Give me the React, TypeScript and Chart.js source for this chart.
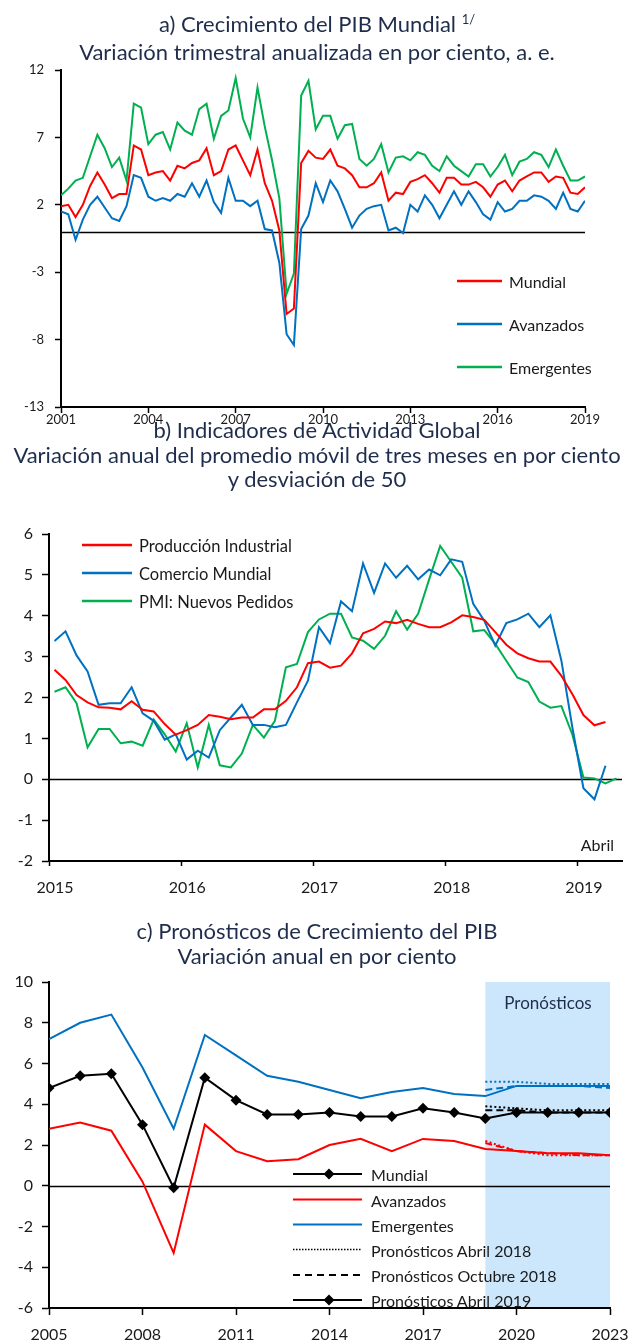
import React, { useEffect, useRef } from "react";
import { Chart, registerables } from "chart.js";

Chart.register(...registerables);

const FONT = "Lato, 'Noto Sans', sans-serif";
const NAVY = "#1f2d4d";
const INK = "#1a1a1a";
const RED = "#ff0000";
const BLUE = "#0070c0";
const GREEN = "#00b050";
const BAND = "#cce7fb";

// ---------- a) Crecimiento del PIB Mundial (quarterly, 2001Q1 .. 2019Q1)
const gdpStart = 2001;
const gdpMundial = [
  1.9, 2.0, 1.1, 2.0, 3.4, 4.4, 3.5, 2.5, 2.8, 2.8,
  6.4, 6.1, 4.2, 4.4, 4.5, 3.8, 4.9, 4.7, 5.1, 5.3,
  6.2, 4.2, 4.5, 6.1, 6.4, 5.3, 4.2, 6.1, 3.6, 2.3,
  0.1, -6.1, -5.7, 5.1, 6.0, 5.5, 5.4, 6.1, 4.9, 4.7,
  4.2, 3.3, 3.3, 3.6, 4.4, 2.3, 2.9, 2.8, 3.7, 3.9,
  4.2, 3.6, 2.9, 4.0, 4.0, 3.5, 3.5, 3.7, 3.3, 2.6,
  3.5, 3.8, 3.0, 3.8, 4.1, 4.4, 4.4, 3.7, 4.1, 4.0,
  2.9, 2.8, 3.3,
];
const gdpAvanzados = [
  1.5, 1.3, -0.6, 0.9, 2.0, 2.6, 1.8, 1.0, 0.8, 1.9,
  4.2, 4.0, 2.6, 2.3, 2.5, 2.3, 2.8, 2.6, 3.6, 2.6,
  3.8, 2.2, 1.4, 4.0, 2.3, 2.3, 1.9, 2.3, 0.2, 0.1,
  -2.3, -7.6, -8.4, 0.2, 1.2, 3.6, 2.2, 3.8, 3.0, 1.7,
  0.3, 1.2, 1.7, 1.9, 2.0, 0.1, 0.3, -0.1, 2.0, 1.5,
  2.7, 2.0, 1.0, 2.0, 3.0, 2.0, 3.0, 2.2, 1.3, 0.9,
  2.2, 1.5, 1.7, 2.3, 2.3, 2.7, 2.6, 2.3, 1.7, 2.9,
  1.7, 1.5, 2.3,
];
const gdpEmergentes = [
  2.7, 3.2, 3.8, 4.0, 5.6, 7.2, 6.2, 4.8, 5.5, 3.8,
  9.5, 9.2, 6.5, 7.2, 7.4, 6.1, 8.1, 7.5, 7.2, 9.1,
  9.5, 6.9, 8.6, 9.0, 11.4, 8.4, 7.0, 10.7, 7.8, 5.3,
  2.5, -4.6, -3.1, 10.1, 11.2, 7.6, 8.6, 8.6, 6.9, 7.9,
  8.0, 5.4, 4.9, 5.4, 6.5, 4.4, 5.5, 5.6, 5.3, 5.9,
  5.7, 4.9, 4.5, 5.6, 4.9, 4.5, 4.1, 5.0, 5.0, 4.1,
  4.8, 5.7, 4.2, 5.2, 5.4, 5.9, 5.7, 4.8, 6.1, 4.9,
  3.8, 3.8, 4.1,
];
const gdpLabels = ["Mundial", "Avanzados", "Emergentes"];
const gdpYTicks = [-13, -8, -3, 2, 7, 12];
const gdpXTicks = [2001, 2004, 2007, 2010, 2013, 2016, 2019];

// ---------- b) Indicadores de Actividad Global (monthly, Jan 2015 ..)
const actStart = 2015;
const actProduccion = [
  2.68, 2.43, 2.06, 1.88, 1.76, 1.75, 1.71, 1.91, 1.70, 1.66,
  1.35, 1.09, 1.20, 1.33, 1.57, 1.53, 1.47, 1.51, 1.51, 1.71,
  1.71, 1.92, 2.25, 2.84, 2.88, 2.73, 2.78, 3.08, 3.57, 3.68,
  3.86, 3.82, 3.90, 3.80, 3.72, 3.72, 3.84, 4.01, 3.97, 3.90,
  3.60, 3.29, 3.08, 2.96, 2.88, 2.88, 2.53, 2.08, 1.57, 1.32,
  1.40,
];
const actComercio = [
  3.38, 3.62, 3.03, 2.64, 1.82, 1.86, 1.86, 2.25, 1.61, 1.43,
  0.97, 1.10, 0.48, 0.70, 0.53, 1.20, 1.51, 1.82, 1.33, 1.33,
  1.27, 1.33, 1.88, 2.41, 3.72, 3.33, 4.35, 4.11, 5.28, 4.56,
  5.28, 4.93, 5.22, 4.89, 5.13, 4.99, 5.38, 5.32, 4.29, 3.88,
  3.27, 3.82, 3.91, 4.05, 3.72, 4.01, 2.90, 1.26, -0.22, -0.49,
  0.33,
];
const actPMI = [
  2.14, 2.25, 1.86, 0.78, 1.23, 1.23, 0.88, 0.92, 0.82, 1.46,
  1.10, 0.68, 1.37, 0.29, 1.33, 0.34, 0.29, 0.63, 1.33, 1.02,
  1.43, 2.74, 2.82, 3.60, 3.91, 4.05, 4.05, 3.47, 3.39, 3.19,
  3.51, 4.11, 3.66, 4.05, 4.89, 5.71, 5.32, 4.93, 3.62, 3.65,
  3.31, 2.90, 2.49, 2.38, 1.90, 1.75, 1.79, 1.09, 0.04, 0.02,
  -0.10, 0.02,
];
const actLabels = ["Producción Industrial", "Comercio Mundial", "PMI: Nuevos Pedidos"];
const actYTicks = [-2, -1, 0, 1, 2, 3, 4, 5, 6];
const actXTicks = [2015, 2016, 2017, 2018, 2019];

// ---------- c) Pronósticos de Crecimiento del PIB (annual)
const fcYears = [
  2005, 2006, 2007, 2008, 2009, 2010, 2011, 2012, 2013, 2014,
  2015, 2016, 2017, 2018, 2019, 2020, 2021, 2022, 2023,
];
const fcMundial = [4.8, 5.4, 5.5, 3.0, -0.1, 5.3, 4.2, 3.5, 3.5, 3.6, 3.4, 3.4, 3.8, 3.6, 3.3, 3.6, 3.6, 3.6, 3.6];
const fcAvanzados = [2.8, 3.1, 2.7, 0.2, -3.3, 3.0, 1.7, 1.2, 1.3, 2.0, 2.3, 1.7, 2.3, 2.2, 1.8, 1.7, 1.6, 1.6, 1.5];
const fcEmergentes = [7.2, 8.0, 8.4, 5.8, 2.8, 7.4, 6.4, 5.4, 5.1, 4.7, 4.3, 4.6, 4.8, 4.5, 4.4, 4.9, 4.9, 4.9, 4.9];
const fcForecastYears = [2019, 2020, 2021, 2022, 2023];
const fcAbr18Mundial = [3.9, 3.8, 3.7, 3.7, 3.7];
const fcAbr18Avanzados = [2.2, 1.7, 1.5, 1.5, 1.5];
const fcAbr18Emergentes = [5.1, 5.1, 5.0, 5.0, 5.0];
const fcOct18Mundial = [3.7, 3.7, 3.6, 3.6, 3.6];
const fcOct18Avanzados = [2.1, 1.7, 1.6, 1.5, 1.5];
const fcOct18Emergentes = [4.7, 4.9, 4.9, 4.9, 4.8];
const fcLabels = [
  "Mundial",
  "Avanzados",
  "Emergentes",
  "Pronósticos Abril 2018",
  "Pronósticos Octubre 2018",
  "Pronósticos Abril 2019",
];
const fcYTicks = [-6, -4, -2, 0, 2, 4, 6, 8, 10];
const fcXTicks = [2005, 2008, 2011, 2014, 2017, 2020, 2023];

// ---------- helpers
const zeroLine = {
  id: "zeroLine",
  beforeDatasetsDraw(chart: any) {
    const { ctx, chartArea, scales } = chart;
    const y = Math.round(scales.y.getPixelForValue(0)) + 0.5;
    ctx.save();
    ctx.strokeStyle = "#000";
    ctx.lineWidth = 1.5;
    ctx.beginPath();
    ctx.moveTo(chartArea.left, y);
    ctx.lineTo(chartArea.right, y);
    ctx.stroke();
    ctx.restore();
  },
};

const forecastBand = {
  id: "forecastBand",
  beforeDraw(chart: any) {
    const { ctx, chartArea, scales } = chart;
    const x1 = scales.x.getPixelForValue(fcForecastYears[0]);
    const x2 = scales.x.getPixelForValue(fcForecastYears[fcForecastYears.length - 1]);
    ctx.save();
    ctx.fillStyle = BAND;
    ctx.fillRect(x1, chartArea.top, x2 - x1, chartArea.bottom - chartArea.top);
    ctx.restore();
  },
};

function xAxis(min: number, max: number, ticks: number[], o: any) {
  return {
    type: "linear",
    min,
    max,
    afterBuildTicks: (s: any) => {
      s.ticks = ticks.map((v) => ({ value: v }));
    },
    afterFit: (s: any) => {
      s.height = o.height;
      s.paddingLeft = 0;
      s.paddingRight = 0;
    },
    grid: { display: true, drawOnChartArea: false, drawTicks: true, tickLength: o.tickLength, tickColor: "#000", tickWidth: 1.5 },
    border: { display: true, color: "#000", width: 2 },
    ticks: {
      color: INK,
      font: { family: FONT, size: o.size, lineHeight: 1 },
      padding: o.padding,
      labelOffset: o.labelOffset || 0,
      maxRotation: 0,
      minRotation: 0,
      autoSkip: false,
      callback: (v: any) => String(v),
    },
  };
}

function yAxis(min: number, max: number, ticks: number[], o: any) {
  return {
    type: "linear",
    min,
    max,
    afterBuildTicks: (s: any) => {
      s.ticks = ticks.map((v) => ({ value: v }));
    },
    afterFit: (s: any) => {
      s.width = o.width;
      s.paddingTop = 0;
      s.paddingBottom = 0;
    },
    grid: { display: true, drawOnChartArea: false, drawTicks: true, tickLength: o.tickLength, tickColor: "#000", tickWidth: 1.5 },
    border: { display: true, color: "#000", width: 2 },
    ticks: {
      color: INK,
      font: { family: FONT, size: o.size, lineHeight: 1 },
      padding: o.padding,
      autoSkip: false,
      callback: (v: any) => String(v),
    },
  };
}

function line(label: string, data: any[], color: string, extra: any = {}) {
  return {
    label,
    data,
    borderColor: color,
    backgroundColor: color,
    borderWidth: 2,
    pointRadius: 0,
    tension: 0,
    fill: false,
    ...extra,
  };
}

const baseOptions = {
  animation: false,
  responsive: false,
  maintainAspectRatio: false,
  events: [],
};

function configA(): any {
  const pts = (arr: number[]) => arr.map((v, i) => ({ x: gdpStart + i / 4, y: v }));
  return {
    type: "line",
    data: {
      datasets: [
        line(gdpLabels[0], pts(gdpMundial), RED),
        line(gdpLabels[1], pts(gdpAvanzados), BLUE),
        line(gdpLabels[2], pts(gdpEmergentes), GREEN),
      ],
    },
    options: {
      ...baseOptions,
      layout: { padding: { left: 0, right: 49, top: 15, bottom: 0 } },
      plugins: { legend: { display: false }, tooltip: { enabled: false }, title: { display: false } },
      scales: {
        x: xAxis(2001, 2019, gdpXTicks, { height: 33, tickLength: 6, padding: 0, size: 13 }),
        y: yAxis(-13, 12, gdpYTicks, { width: 61, tickLength: 6, padding: 11, size: 13 }),
      },
    },
    plugins: [zeroLine],
  };
}

function configB(): any {
  const pts = (arr: number[]) => arr.map((v, i) => ({ x: actStart + (i + 0.5) / 12, y: v }));
  return {
    type: "line",
    data: {
      datasets: [
        line(actLabels[0], pts(actProduccion), RED),
        line(actLabels[1], pts(actComercio), BLUE),
        line(actLabels[2], pts(actPMI), GREEN),
      ],
    },
    options: {
      ...baseOptions,
      layout: { padding: { left: 0, right: 12, top: 14, bottom: 0 } },
      plugins: { legend: { display: false }, tooltip: { enabled: false }, title: { display: false } },
      scales: {
        x: xAxis(2015, 2015 + 52 / 12, actXTicks, { height: 49, tickLength: 5, padding: 14, size: 16, labelOffset: 6 }),
        y: yAxis(-2, 6, actYTicks, { width: 49, tickLength: 7, padding: 9, size: 16 }),
      },
    },
    plugins: [zeroLine],
  };
}

function configC(): any {
  const pts = (xs: number[], arr: number[]) => arr.map((v, i) => ({ x: xs[i], y: v }));
  const dotted = { borderDash: [2, 2.5], borderWidth: 2 };
  const dashed = { borderDash: [7, 4], borderWidth: 2 };
  return {
    type: "line",
    data: {
      datasets: [
        line(fcLabels[0], pts(fcYears, fcMundial), "#000", {
          pointRadius: 5.5,
          pointStyle: "rectRot",
          pointBackgroundColor: "#000",
          pointBorderColor: "#000",
          pointBorderWidth: 0,
        }),
        line(fcLabels[1], pts(fcYears, fcAvanzados), RED),
        line(fcLabels[2], pts(fcYears, fcEmergentes), BLUE),
        line(fcLabels[3] + " Mundial", pts(fcForecastYears, fcAbr18Mundial), "#000", dotted),
        line(fcLabels[3] + " Avanzados", pts(fcForecastYears, fcAbr18Avanzados), RED, dotted),
        line(fcLabels[3] + " Emergentes", pts(fcForecastYears, fcAbr18Emergentes), BLUE, dotted),
        line(fcLabels[4] + " Mundial", pts(fcForecastYears, fcOct18Mundial), "#000", dashed),
        line(fcLabels[4] + " Avanzados", pts(fcForecastYears, fcOct18Avanzados), RED, dashed),
        line(fcLabels[4] + " Emergentes", pts(fcForecastYears, fcOct18Emergentes), BLUE, dashed),
      ],
    },
    options: {
      ...baseOptions,
      layout: { padding: { left: 0, right: 24, top: 17, bottom: 0 } },
      plugins: { legend: { display: false }, tooltip: { enabled: false }, title: { display: false } },
      scales: {
        x: xAxis(2005, 2023, fcXTicks, { height: 34, tickLength: 7, padding: 12, size: 16 }),
        y: yAxis(-6, 10, fcYTicks, { width: 49, tickLength: 7, padding: 9, size: 16 }),
      },
    },
    plugins: [forecastBand, zeroLine],
  };
}

// ---------- presentational pieces
const abs = (s: any): any => ({ position: "absolute", whiteSpace: "nowrap", ...s });

function Title({ top, lines, size }: { top: number; lines: React.ReactNode[]; size: number }) {
  return (
    <div
      style={abs({
        left: 0,
        top,
        width: 634,
        textAlign: "center",
        fontFamily: FONT,
        fontSize: size,
        lineHeight: "24.5px",
        color: NAVY,
      })}
    >
      {lines.map((l, i) => (
        <div key={i}>{l}</div>
      ))}
    </div>
  );
}

function Label({ x, cy, size, text, align }: { x: number; cy: number; size: number; text: string; align?: string }) {
  const h = 22;
  const style: any = { top: cy - h / 2, height: h, lineHeight: `${h}px`, fontFamily: FONT, fontSize: size, color: INK };
  if (align === "right") style.right = 634 - x;
  else style.left = x;
  return <div style={abs(style)}>{text}</div>;
}

export default function App() {
  const refA = useRef<HTMLCanvasElement>(null);
  const refB = useRef<HTMLCanvasElement>(null);
  const refC = useRef<HTMLCanvasElement>(null);

  useEffect(() => {
    const charts = [
      new Chart(refA.current as HTMLCanvasElement, configA()),
      new Chart(refB.current as HTMLCanvasElement, configB()),
      new Chart(refC.current as HTMLCanvasElement, configC()),
    ];
    return () => charts.forEach((c) => c.destroy());
  }, []);

  const legA = [281, 324, 367];
  const colA = [RED, BLUE, GREEN];
  const legB = [545, 573, 601];
  const legC = [1174, 1199.5, 1224.5, 1249.5, 1275, 1300];

  return (
    <div style={{ position: "absolute", left: 0, top: 0, width: 634, height: 1342, overflow: "hidden", background: "#fff" }}>
      <canvas ref={refA} width={634} height={385} style={abs({ left: 0, top: 55 })} />
      <canvas ref={refB} width={634} height={390} style={abs({ left: 0, top: 520 })} />
      <canvas ref={refC} width={634} height={377} style={abs({ left: 0, top: 965 })} />

      <Title
        top={12}
        size={22}
        lines={[
          <span>
            a) Crecimiento del PIB Mundial{" "}
            <span style={{ fontSize: 13, position: "relative", top: -8 }}>1/</span>
          </span>,
          "Variación trimestral anualizada en por ciento, a. e.",
        ]}
      />
      <Title
        top={418}
        size={22}
        lines={[
          "b) Indicadores de Actividad Global",
          "Variación anual del promedio móvil de tres meses en por ciento",
          "y desviación de 50",
        ]}
      />
      <Title top={919} size={22} lines={["c) Pronósticos de Crecimiento del PIB", "Variación anual en por ciento"]} />

      <svg width={634} height={1342} style={abs({ left: 0, top: 0, pointerEvents: "none" })}>
        {legA.map((y, i) => (
          <line key={"a" + i} x1={457} x2={502} y1={y} y2={y} stroke={colA[i]} strokeWidth={2.5} />
        ))}
        {legB.map((y, i) => (
          <line key={"b" + i} x1={82} x2={132} y1={y} y2={y} stroke={colA[i]} strokeWidth={2.5} />
        ))}
        <line x1={293} x2={362} y1={legC[0]} y2={legC[0]} stroke="#000" strokeWidth={2} />
        <polygon points={`329,${legC[0] - 5.5} 334.5,${legC[0]} 329,${legC[0] + 5.5} 323.5,${legC[0]}`} fill="#000" />
        <line x1={293} x2={362} y1={legC[1]} y2={legC[1]} stroke={RED} strokeWidth={2} />
        <line x1={293} x2={362} y1={legC[2]} y2={legC[2]} stroke={BLUE} strokeWidth={2} />
        <line x1={293} x2={362} y1={legC[3]} y2={legC[3]} stroke="#000" strokeWidth={1.5} strokeDasharray="1.5 1.5" />
        <line x1={293} x2={362} y1={legC[4]} y2={legC[4]} stroke="#000" strokeWidth={2} strokeDasharray="7 5" />
        <line x1={293} x2={362} y1={legC[5]} y2={legC[5]} stroke="#000" strokeWidth={2} />
        <polygon points={`329,${legC[5] - 5.5} 334.5,${legC[5]} 329,${legC[5] + 5.5} 323.5,${legC[5]}`} fill="#000" />
      </svg>

      {gdpLabels.map((t, i) => (
        <Label key={"la" + i} x={509} cy={legA[i] + 1} size={16} text={t} />
      ))}
      {actLabels.map((t, i) => (
        <Label key={"lb" + i} x={139} cy={legB[i] + 1} size={16.5} text={t} />
      ))}
      {fcLabels.map((t, i) => (
        <Label key={"lc" + i} x={371} cy={legC[i] + 1} size={16} text={t} />
      ))}

      <Label x={614} cy={845} size={16} text="Abril" align="right" />
      <div
        style={abs({
          left: 448,
          width: 200,
          top: 992,
          height: 22,
          lineHeight: "22px",
          textAlign: "center",
          fontFamily: FONT,
          fontSize: 17,
          color: NAVY,
        })}
      >
        Pronósticos
      </div>
    </div>
  );
}
